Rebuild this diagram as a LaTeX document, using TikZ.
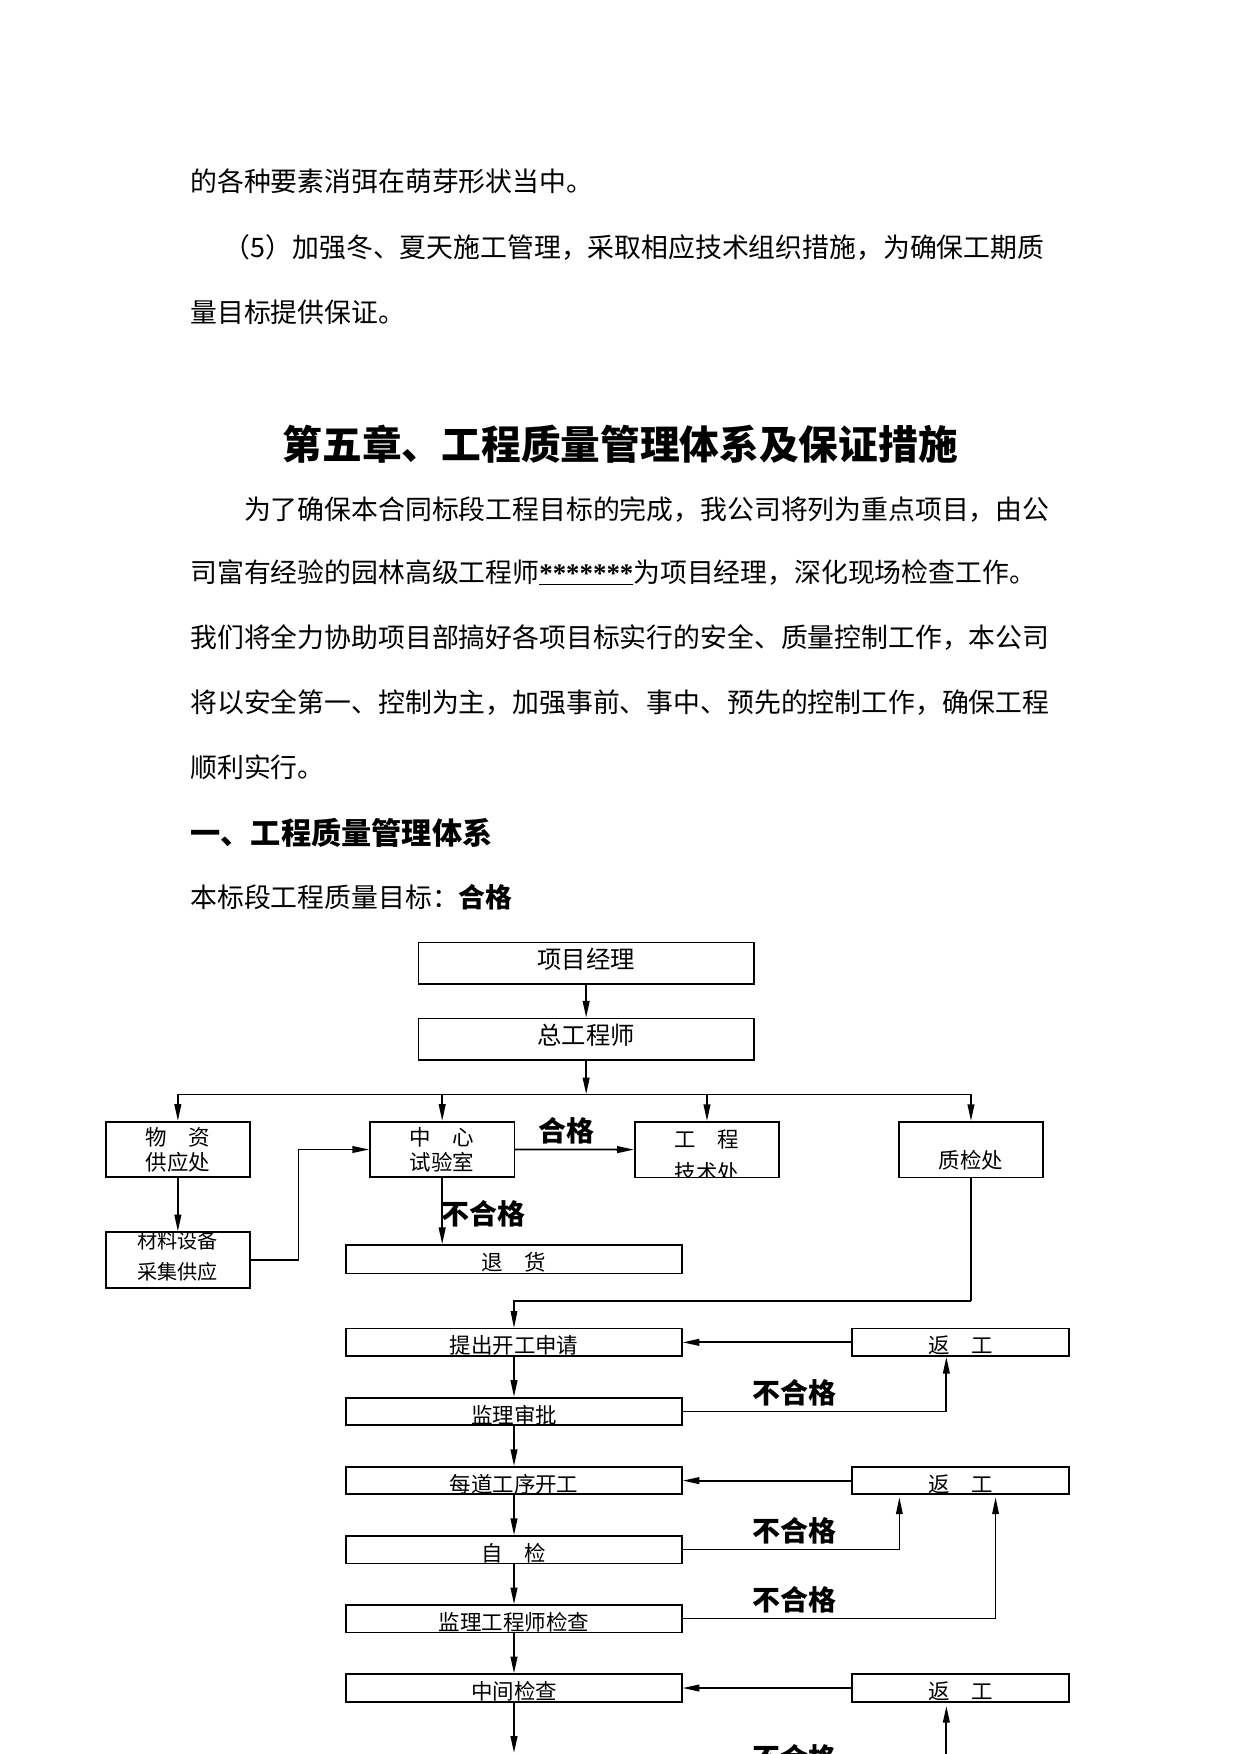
\documentclass[tikz,border=0pt]{standalone}
\usepackage{fontspec}
\setmainfont{Noto Sans CJK SC}
\newfontfamily\latinfont{Liberation Serif}
\usetikzlibrary{arrows.meta,positioning}

\begin{document}
\begin{tikzpicture}[x=1pt, y=-1pt, node distance=35.8pt and 150.5pt, >={Triangle[length=15pt,width=6pt]},
	bodyline/.style={anchor=west, inner sep=0pt, text height=21pt, text depth=3pt, font=\fontsize{24pt}{28pt}\selectfont},
	chaptitle/.style={inner sep=0pt, text height=31.2pt, text depth=4.3pt, font=\fontsize{35.5pt}{40pt}\selectfont\bfseries},
	sectitle/.style={anchor=west, inner sep=0pt, text height=23.8pt, text depth=3.2pt, font=\fontsize{27pt}{30pt}\selectfont\bfseries},
	topbox/.style={draw, line width=1.5pt, rectangle, inner sep=0pt, minimum width=300pt, minimum height=37pt, text height=9.5pt, text depth=0pt, font=\fontsize{21.75pt}{24pt}\selectfont},
	deptbox/.style={draw, line width=1.5pt, rectangle, inner sep=0pt, minimum width=129pt, minimum height=49.6pt, font=\fontsize{19.2pt}{22.3pt}\selectfont},
	flowbox/.style={draw, line width=1.5pt, rectangle, inner sep=0pt, minimum width=300pt, minimum height=24.5pt, text height=20.6pt, text depth=0pt, font=\fontsize{19.2pt}{22pt}\selectfont},
	reworkbox/.style={flowbox, minimum width=194pt},
	passlabel/.style={inner sep=0pt, font=\fontsize{25pt}{28pt}\selectfont\bfseries},
	chainLine/.style={line width=1.6pt, ->},
	thinLine/.style={line width=1pt}
	]
	\useasboundingbox (0,0) rectangle (1109,1568);
	\fill[white] (0,0) rectangle (1109,1568);
	\clip (0,0) rectangle (1109,1568);

	% text of the page
	\node[bodyline] (line1) at (170,162) {的各种要素消弭在萌芽形状当中。};
	\node[bodyline] (line2) at (200,221) {（5）加强冬、夏天施工管理，采取相应技术组织措施，为确保工期质};
	\node[bodyline] (line3) at (170,279) {量目标提供保证。};
	\node[chaptitle] (chapter) at (554.5,397) {第五章、工程质量管理体系及保证措施};
	\node[bodyline] (para1) at (218,455) {为了确保本合同标段工程目标的完成，我公司将列为重点项目，由公};
	\node[bodyline] (para2) at (170,512) {司富有经验的园林高级工程师\underline{\latinfont\bfseries *******}为项目经理，深化现场检查工作。};
	\node[bodyline] (para3) at (170,570) {我们将全力协助项目部搞好各项目标实行的安全、质量控制工作，本公司};
	\node[bodyline] (para4) at (170,628) {将以安全第一、控制为主，加强事前、事中、预先的控制工作，确保工程};
	\node[bodyline] (para5) at (170,686) {顺利实行。};
	\node[sectitle] (section) at (170,745) {一、工程质量管理体系};
	\node[bodyline] (goal) at (170,802) {本标段工程质量目标：{\bfseries 合格}};

	% organisation
	\node[topbox] (manager) at (524,861) {项目经理};
	\node[topbox] (chiefeng) at (524,929) {总工程师};
	\coordinate (bus) at (524,978.3);
	\node[deptbox, align=center] (supply) at (159,1027.6) {物　资\\供应处};
	\node[deptbox, align=center] (lab) at (395.3,1027.6) {中　心\\试验室};
	\node[deptbox, path picture={\node[align=center, font=\fontsize{19.2pt}{29pt}\selectfont] (techtext) at ([yshift=-5.8pt]path picture bounding box.center) {工　程\\技术处};}] (tech) at (632,1027.7) {};
	\node[deptbox, text height=33.2pt, text depth=0pt] (qc) at (868,1027.7) {质检处};
	\node[deptbox, path picture={\node[align=center, font=\fontsize{18pt}{28pt}\selectfont] (materialtext) at ([yshift=3.4pt]path picture bounding box.center) {材料设备\\采集供应};}] (material) at (159,1126.4) {};
	\node[flowbox, minimum height=25.3pt] (returngoods) at (459.5,1125.7) {退　货};

	\draw [chainLine] (manager) -- (chiefeng);
	\draw [chainLine] (chiefeng) -- (bus);
	\draw [thinLine] (supply.north |- bus) -- (qc.north |- bus);
	\foreach \dept in {supply,lab,tech,qc}
		\draw [chainLine] (\dept.north |- bus) -- (\dept);
	\draw [chainLine] (supply) -- (material);
	\coordinate (feedturn) at (266.7,1126.4);
	\draw [chainLine, line width=1.3pt] (material.east) -- (feedturn) |- (lab.west);
	\draw [chainLine] (lab.east) -- (tech.west);
	\node[passlabel] (passmark) at (506,1011) {合格};
	\draw [chainLine] (lab.south) -- (lab.south |- returngoods.north);
	\node[passlabel] (failmark0) at (432,1085) {不合格};

	% inspection chain
	\node[flowbox] (apply) at (459.5,1200) {提出开工申请};
	\node[flowbox, below = of apply] (approve) {监理审批};
	\node[flowbox, below = of approve] (startwork) {每道工序开工};
	\node[flowbox, below = of startwork] (selfcheck) {自　检};
	\node[flowbox, below = of selfcheck] (supcheck) {监理工程师检查};
	\node[flowbox, below = of supcheck] (midcheck) {中间检查};
	\node[reworkbox, right = of apply] (rework1) {返　工};
	\node[reworkbox, right = of startwork] (rework2) {返　工};
	\node[reworkbox, right = of midcheck] (rework3) {返　工};

	\coordinate (qcturn) at (868,1163);
	\draw [line width=1.5pt] (qc.south) -- (qcturn);
	\draw [thinLine, ->] (qcturn) -- (apply.north |- qcturn) -- (apply.north);
	\foreach \from/\to in {apply/approve, approve/startwork, startwork/selfcheck, selfcheck/supcheck, supcheck/midcheck}
		\draw [chainLine] (\from) -- (\to);
	\coordinate (downend) at (459.5,1567);
	\draw [chainLine] (midcheck) -- (downend);

	\draw [chainLine] (rework1) -- (apply);
	\draw [chainLine] (rework2) -- (startwork);
	\draw [chainLine] (rework3) -- (midcheck);

	\coordinate (back1) at (846,1262);
	\coordinate (back2) at (804,1385);
	\coordinate (back3) at (890,1447);
	\coordinate (back4) at (846,1570);
	\draw [chainLine] (approve.east) -| (back1 |- rework1.south);
	\draw [thinLine, ->, shorten >=2pt] (selfcheck.east) -| (back2 |- rework2.south);
	\draw [thinLine, ->, shorten >=2pt] (supcheck.east) -| (back3 |- rework2.south);
	\draw [chainLine, shorten >=3pt] (back4) -- (back4 |- rework3.south);

	\node[passlabel] (failmark1) at (710,1245) {不合格};
	\node[passlabel] (failmark2) at (710,1368) {不合格};
	\node[passlabel] (failmark3) at (710,1430) {不合格};
	\node[passlabel] (failmark4) at (710,1571) {不合格};
\end{tikzpicture}
\end{document}
